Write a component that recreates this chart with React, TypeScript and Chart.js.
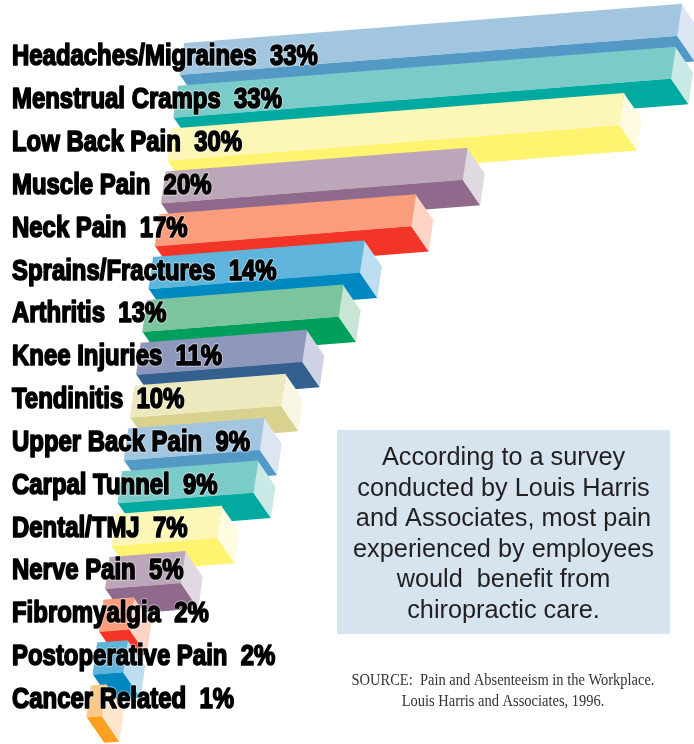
import React, { useEffect, useRef } from "react";
import { Chart, registerables } from "chart.js";

Chart.register(...registerables);

const categories = ["Headaches/Migraines", "Menstrual Cramps", "Low Back Pain", "Muscle Pain", "Neck Pain", "Sprains/Fractures", "Arthritis", "Knee Injuries", "Tendinitis", "Upper Back Pain", "Carpal Tunnel", "Dental/TMJ", "Nerve Pain", "Fibromyalgia", "Postoperative Pain", "Cancer Related"];
const percents = [33, 33, 30, 20, 17, 14, 13, 11, 10, 9, 9, 7, 5, 2, 2, 1];
const faceColors = ["#A3C6E0", "#7BCBC9", "#FDF7B7", "#BBA7B9", "#F99D7C", "#5FB4DB", "#7BC49E", "#8E98BC", "#EDE9BF", "#A3C6E0", "#7BCBC9", "#FDF7B7", "#BBA7B9", "#F99D7C", "#5FB4DB", "#FCC98A"];
const darkColors = ["#5399C5", "#00AAA0", "#FFF36F", "#8F6A8C", "#F33527", "#0088C0", "#00A05C", "#34608F", "#D9D28E", "#5399C5", "#00AAA0", "#FFF36F", "#8F6A8C", "#F33527", "#0088C0", "#FBA01F"];
const sideColors = ["#DBE6F2", "#C9E9E7", "#FFFCE2", "#E1D9E2", "#FFD4C4", "#BDDDF0", "#C8E5D5", "#D0D3E4", "#F8F6E3", "#DBE6F2", "#C9E9E7", "#FFFCE2", "#E1D9E2", "#FFD4C4", "#BDDDF0", "#FEE6CC"];
const noteLines = ["According to a survey", "conducted by Louis Harris", "and Associates, most pain", "experienced by employees", "would  benefit from", "chiropractic care."];
const sourceLines = ["SOURCE:  Pain and Absenteeism in the Workplace.", "Louis Harris and Associates, 1996."];

const SHEAR_X = -0.145;
const SHEAR_Y = -0.0785;
const DROP_Y = 3;
const DEPTH_X = 17.6;
const DEPTH_Y = 25.6;
const LABEL_SQUEEZE = 0.825;

function pivots(chart: any) {
  const el = chart.getDatasetMeta(0).data[0];
  return { x0: chart.scales.x.getPixelForValue(0), y0: el.y };
}

const skewPlugin = {
  id: "skew",
  beforeDatasetsDraw(chart: any) {
    const ctx = chart.ctx;
    const { x0, y0 } = pivots(chart);
    const project = (x: number, y: number) => [x + SHEAR_X * (y - y0), y + SHEAR_Y * (x - x0) + DROP_Y];
    const poly = (pts: number[][], color: string) => {
      ctx.fillStyle = color;
      ctx.beginPath();
      pts.forEach((p, i) => (i ? ctx.lineTo(p[0], p[1]) : ctx.moveTo(p[0], p[1])));
      ctx.closePath();
      ctx.fill();
    };
    const bars = chart.getDatasetMeta(0).data;
    bars.forEach((el: any, i: number) => {
      const h = el.height / 2;
      const bl = project(el.base, el.y + h);
      const br = project(el.x, el.y + h);
      poly([bl, br, [br[0] + DEPTH_X, br[1] + DEPTH_Y], [bl[0] + DEPTH_X, bl[1] + DEPTH_Y]], darkColors[i]);
    });
    bars.forEach((el: any, i: number) => {
      const h = el.height / 2;
      const tr = project(el.x, el.y - h);
      const br = project(el.x, el.y + h);
      poly([tr, [tr[0] + DEPTH_X, tr[1] + DEPTH_Y], [br[0] + DEPTH_X, br[1] + DEPTH_Y], br], sideColors[i]);
    });
    ctx.save();
    ctx.transform(1, SHEAR_Y, SHEAR_X, 1, -SHEAR_X * y0, -SHEAR_Y * x0 + DROP_Y);
  },
  afterDatasetsDraw(chart: any) {
    const ctx = chart.ctx;
    ctx.restore();
    const yScale = chart.scales.y;
    ctx.save();
    ctx.font = 'bold 29px "Liberation Sans"';
    ctx.textAlign = "left";
    ctx.textBaseline = "alphabetic";
    ctx.lineJoin = "round";
    yScale.ticks.forEach((tick: any, i: number) => {
      ctx.save();
      ctx.translate(yScale.right, yScale.getPixelForTick(i) + 9.4);
      ctx.scale(LABEL_SQUEEZE, 1);
      ctx.strokeStyle = "rgba(255,255,255,0.45)";
      ctx.lineWidth = 3.6;
      ctx.strokeText(tick.label, 0, 0);
      ctx.strokeStyle = "#000000";
      ctx.lineWidth = 1.7;
      ctx.strokeText(tick.label, 0, 0);
      ctx.fillStyle = "#000000";
      ctx.fillText(tick.label, 0, 0);
      ctx.restore();
    });
    ctx.restore();
  },
  afterDraw(chart: any) {
    const ctx = chart.ctx;
    ctx.save();
    ctx.fillStyle = "#D6E4F0";
    ctx.fillRect(337, 430, 333, 204);
    ctx.fillStyle = "#231F20";
    ctx.textAlign = "center";
    ctx.textBaseline = "alphabetic";
    ctx.font = '25.3px "Liberation Sans"';
    noteLines.forEach((t, i) => ctx.fillText(t, 503.5, 465 + i * 30.5));
    ctx.fillStyle = "#333333";
    ctx.font = '16px "Liberation Serif"';
    sourceLines.forEach((t, i) => {
      ctx.save();
      ctx.translate(503, 685 + i * 21);
      ctx.scale(0.905, 1);
      ctx.fillText(t, 0, 0);
      ctx.restore();
    });
    ctx.restore();
  },
};

export default function App() {
  const ref = useRef<HTMLCanvasElement>(null);
  useEffect(() => {
    const chart = new Chart(ref.current!, {
      type: "bar",
      data: {
        labels: categories,
        datasets: [{ data: percents, backgroundColor: faceColors, barThickness: 31.5, borderWidth: 0, clip: false } as any],
      },
      plugins: [skewPlugin],
      options: {
        indexAxis: "y",
        animation: false,
        responsive: false,
        devicePixelRatio: 1,
        layout: { padding: { left: 12, right: 0, top: 34.6, bottom: 24.1 } },
        plugins: { legend: { display: false }, tooltip: { enabled: false }, title: { display: false } },
        scales: {
          x: { display: false, type: "linear", min: -11.29, max: 33.97 },
          y: {
            type: "category",
            grid: { display: false, drawTicks: false },
            border: { display: false },
            ticks: {
              display: false,
              mirror: true,
              padding: 0,
              autoSkip: false,
              callback: (_v: any, i: number) => `${categories[i]}  ${percents[i]}%`,
            },
          },
        },
      } as any,
    });
    return () => chart.destroy();
  }, []);
  return (
    <canvas
      ref={ref}
      width={694}
      height={744}
      style={{ position: "fixed", left: 0, top: 0, display: "block", width: 694, height: 744 }}
    />
  );
}
